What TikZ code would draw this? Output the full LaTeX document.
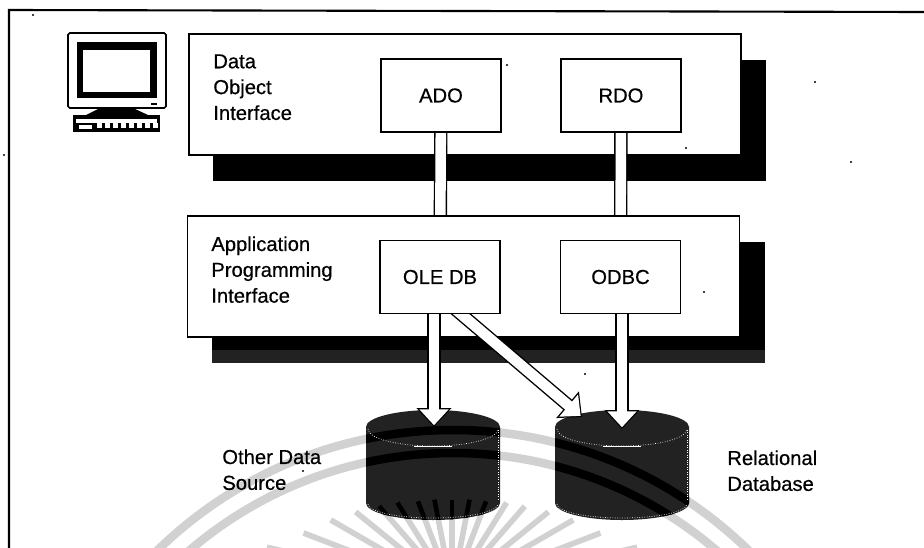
\documentclass[tikz,border=0pt]{standalone}
\usepackage{fontspec}
\setmainfont[RawFeature={embolden=0.5}]{Liberation Sans}
\usetikzlibrary{backgrounds, arrows.meta}
\def\rescale{0.02}
\definecolor{stampgray}{gray}{0.82}
\definecolor{drumgray}{HTML}{222222}
\tikzset{
    box/.style={draw=black, fill=white, line width=0.8pt, inner sep=0pt, outer sep=0pt, minimum width=2.4cm, minimum height=1.46cm, font=\fontsize{11.5}{14.7}\selectfont},
    panel/.style={draw=black, fill=white, line width=0.8pt, inner sep=0pt, outer sep=0pt, minimum width=11.04cm, minimum height=2.42cm},
    captiontext/.style={anchor=north west, inner sep=0pt, align=left, font=\fontsize{11.5}{14.7}\selectfont},
    pipe/.style={line width=0.8pt, draw=black, double=white, double distance=6pt},
    fatout/.style={draw=black, line width=7.6pt, -{Triangle[length=10.8pt, width=19.3pt]}},
    fatin/.style={draw=white, line width=6pt, shorten >=1pt, -{Triangle[length=9pt, width=16pt]}},
    stamp/.style={draw=stampgray, line width=8.5*\rescale cm},
    ray/.style={draw=stampgray, line width=3.2pt},
}
\newcommand{\drumpath}[1]{(#1,427) arc[start angle=180, end angle=360, x radius=67, y radius=17] -- (#1+134,503) arc[start angle=0, end angle=180, x radius=67, y radius=17] -- cycle}
\begin{document}
\begin{tikzpicture}[x=\rescale cm, y=-\rescale cm]
    \useasboundingbox (0,0) rectangle (924,548);

    % boxes and texts
    \node[box] (ADO) at (441,95.5) {ADO};
    \node[box] (RDO) at (621,95.5) {RDO};
    \node[box] (OLEDB) at (440,277) {OLE DB};
    \node[box] (ODBC) at (620.5,277) {ODBC};

    \node[captiontext] (dataname) at (213,54) {Data\\Object\\Interface};
    \node[captiontext] (apiname) at (211,236) {Application\\Programming\\Interface};
    \node[captiontext] (othername) at (222,449) {Other Data\\Source};
    \node[captiontext] (relname) at (727,450) {Relational\\Database};

    \coordinate (othertip) at (434,427);
    \coordinate (reltip) at (622,429);
    \coordinate (crosstip) at (582,417);
    \coordinate (crossout) at (448,303);

    \begin{scope}[on background layer]
        \fill[white] (0,0) rectangle (924,548);

        % stamp behind the drums
        \begin{scope}
            \clip (0,0) rectangle (924,548);
            \draw[stamp] (453,853) circle[radius=423];
            \draw[stamp] (453,858) circle[radius=405];
            \foreach \ang/\rad in {13/190, 21/159, 30/140, 39/124, 49/111, 58/103, 69/95, 79/92, 90/90, 101/92, 111/95, 122/103, 131/111, 141/124, 150/140, 159/159, 167/190}{
                \draw[ray] (452,590) ++(-\ang:\rad) -- (452,590);
            }
        \end{scope}

        % frame
        \draw[line width=1.2pt] (9,548) -- (9,10) -- (924,12);

        % monitor
        \draw[line width=0.9pt, fill=white, rounded corners=1pt] (68,33) rectangle (166,108);
        \fill[black] (77,42) rectangle (157,98);
        \fill[white] (83,50) rectangle (150,92);
        \fill[black] (151,103) rectangle (157,105);
        \fill[black] (100,108) -- (133,108) -- (148,115) -- (86,115) -- cycle;
        \fill[black] (73,115) rectangle (160,132);
        \fill[white] (76,119) rectangle (157,123);
        \foreach \x in {97,105,...,153}{
            \fill[white] (\x,123) rectangle (\x+5,128);
        }
        \fill[white] (79,125) rectangle (92,129);

        % upper panel
        \fill[black] (213,60) rectangle (766,181);
        \node[panel] (datapanel) at (465,94.5) {};
        \draw[pipe] (ADO) -- (OLEDB);
        \draw[pipe] (RDO) -- (ODBC);

        % lower panel
        \fill[black] (212,242) rectangle (765,350);
        \fill[drumgray] (212,350) rectangle (765,363);
        \node[panel] (apipanel) at (463.5,276.5) {};

        % drums
        \foreach \x in {366,555}{
            \fill[drumgray] \drumpath{\x};
            \begin{scope}
                \clip \drumpath{\x};
                \draw[line width=8.5*\rescale cm] (453,853) circle[radius=423];
                \draw[line width=8.5*\rescale cm] (453,858) circle[radius=405];
                \foreach \ang/\rad in {21/159, 30/140, 39/124, 49/111, 58/103, 69/95, 79/92, 90/90, 101/92, 111/95, 122/103, 131/111, 141/124, 150/140, 159/159}{
                    \draw[line width=2.6pt] (452,590) ++(-\ang:\rad) -- (452,590);
                }
            \end{scope}
            \draw[white, line width=0.4pt, densely dotted] (\x+2,429) arc[start angle=180, end angle=0, x radius=65, y radius=17];
            \draw[white, line width=0.4pt, densely dotted] (\x+2,504) arc[start angle=180, end angle=0, x radius=65, y radius=14];
            \draw[white, line width=0.4pt] (\x+48,446) -- (\x+86,446);
            \draw[white, line width=0.4pt, densely dotted] (\x+132,430) -- (\x+132,500);
        }

        % arrows out of the lower panel
        \draw[fatout] (OLEDB.south -| othertip) -- (othertip);
        \draw[fatin] (OLEDB.south -| othertip) -- (othertip);
        \draw[fatout] (ODBC.south -| reltip) -- (reltip);
        \draw[fatin] (ODBC.south -| reltip) -- (reltip);
        \draw[fatout] (crossout) -- (crosstip);
        \draw[fatin] (crossout) -- (crosstip);

        % specks
        \foreach \x/\y in {33/15, 4/155, 507/65, 815/82, 851/162, 686/148, 704/292, 585/374, 303/471}{
            \fill[black] (\x,\y) circle[radius=1.2];
        }
    \end{scope}
\end{tikzpicture}
\end{document}
